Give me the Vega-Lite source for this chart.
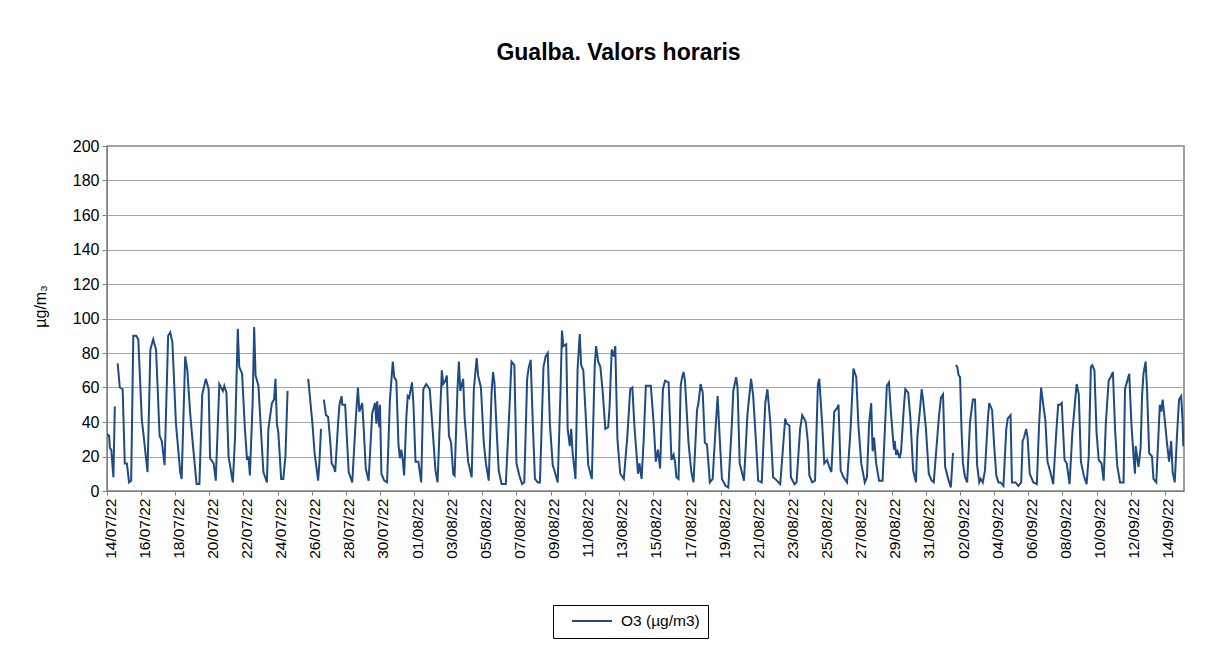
{
"$schema": "https://vega.github.io/schema/vega-lite/v6.json",
"width": 1077, "height": 345,
"autosize": "none",
"padding": {"left": 107, "top": 146, "right": 28, "bottom": 164},
"background": "white",
"title": {"text": "Gualba. Valors horaris", "font": "Liberation Sans", "fontSize": 23, "fontWeight": "bold", "color": "black", "anchor": "middle", "dx": -27, "offset": 73},
"data": {"values": [
{"t":"2022-07-14T00:00","v":33},{"t":"2022-07-14T03:00","v":32},{"t":"2022-07-14T04:00","v":25},{"t":"2022-07-14T06:00","v":24},{"t":"2022-07-14T09:00","v":8},{"t":"2022-07-14T11:00","v":49},{"t":"2022-07-14T12:00","v":null},{"t":"2022-07-14T15:00","v":74},{"t":"2022-07-14T18:00","v":60},{"t":"2022-07-14T22:00","v":59},
{"t":"2022-07-15T01:00","v":16},{"t":"2022-07-15T04:00","v":16},{"t":"2022-07-15T07:00","v":5},{"t":"2022-07-15T10:00","v":6},{"t":"2022-07-15T13:00","v":90},{"t":"2022-07-15T17:00","v":90},{"t":"2022-07-15T20:00","v":88},
{"t":"2022-07-16T01:00","v":41},{"t":"2022-07-16T03:00","v":34},{"t":"2022-07-16T09:00","v":11},{"t":"2022-07-16T13:00","v":82},{"t":"2022-07-16T17:00","v":88},{"t":"2022-07-16T21:00","v":82},
{"t":"2022-07-17T02:00","v":32},{"t":"2022-07-17T05:00","v":29},{"t":"2022-07-17T09:00","v":15},{"t":"2022-07-17T14:00","v":90},{"t":"2022-07-17T17:00","v":92},{"t":"2022-07-17T20:00","v":86},
{"t":"2022-07-18T01:00","v":39},{"t":"2022-07-18T07:00","v":11},{"t":"2022-07-18T09:00","v":7},{"t":"2022-07-18T14:00","v":78},{"t":"2022-07-18T17:00","v":70},{"t":"2022-07-18T21:00","v":45},
{"t":"2022-07-19T01:00","v":26},{"t":"2022-07-19T06:00","v":4},{"t":"2022-07-19T10:00","v":4},{"t":"2022-07-19T14:00","v":56},{"t":"2022-07-19T19:00","v":65},{"t":"2022-07-19T23:00","v":59},
{"t":"2022-07-20T01:00","v":19},{"t":"2022-07-20T06:00","v":16},{"t":"2022-07-20T09:00","v":6},{"t":"2022-07-20T14:00","v":62},{"t":"2022-07-20T19:00","v":58},{"t":"2022-07-20T21:00","v":61},
{"t":"2022-07-21T00:00","v":57},{"t":"2022-07-21T03:00","v":20},{"t":"2022-07-21T09:00","v":5},{"t":"2022-07-21T12:00","v":30},{"t":"2022-07-21T16:00","v":94},{"t":"2022-07-21T18:00","v":72},{"t":"2022-07-21T22:00","v":68},
{"t":"2022-07-22T02:00","v":36},{"t":"2022-07-22T05:00","v":18},{"t":"2022-07-22T07:00","v":20},{"t":"2022-07-22T09:00","v":9},{"t":"2022-07-22T13:00","v":53},{"t":"2022-07-22T15:00","v":95},{"t":"2022-07-22T17:00","v":67},{"t":"2022-07-22T21:00","v":61},
{"t":"2022-07-23T01:00","v":32},{"t":"2022-07-23T04:00","v":11},{"t":"2022-07-23T09:00","v":5},{"t":"2022-07-23T11:00","v":36},{"t":"2022-07-23T16:00","v":51},{"t":"2022-07-23T19:00","v":53},{"t":"2022-07-23T21:00","v":65},{"t":"2022-07-23T23:00","v":39},
{"t":"2022-07-24T01:00","v":34},{"t":"2022-07-24T05:00","v":7},{"t":"2022-07-24T08:00","v":7},{"t":"2022-07-24T11:00","v":20},{"t":"2022-07-24T14:00","v":58},{"t":"2022-07-24T15:00","v":null},
{"t":"2022-07-25T19:00","v":65},{"t":"2022-07-25T20:00","v":61},
{"t":"2022-07-26T01:00","v":39},{"t":"2022-07-26T04:00","v":22},{"t":"2022-07-26T09:00","v":6},{"t":"2022-07-26T11:00","v":18},{"t":"2022-07-26T13:00","v":36},{"t":"2022-07-26T15:00","v":null},{"t":"2022-07-26T17:00","v":53},{"t":"2022-07-26T20:00","v":44},{"t":"2022-07-26T23:00","v":43},
{"t":"2022-07-27T02:00","v":29},{"t":"2022-07-27T04:00","v":16},{"t":"2022-07-27T07:00","v":14},{"t":"2022-07-27T09:00","v":11},{"t":"2022-07-27T13:00","v":39},{"t":"2022-07-27T15:00","v":50},{"t":"2022-07-27T18:00","v":55},{"t":"2022-07-27T19:00","v":50},{"t":"2022-07-27T23:00","v":50},
{"t":"2022-07-28T04:00","v":11},{"t":"2022-07-28T09:00","v":5},{"t":"2022-07-28T14:00","v":42},{"t":"2022-07-28T17:00","v":60},{"t":"2022-07-28T19:00","v":46},{"t":"2022-07-28T23:00","v":51},
{"t":"2022-07-29T01:00","v":37},{"t":"2022-07-29T04:00","v":13},{"t":"2022-07-29T08:00","v":6},{"t":"2022-07-29T13:00","v":45},{"t":"2022-07-29T17:00","v":51},{"t":"2022-07-29T19:00","v":39},{"t":"2022-07-29T20:00","v":52},{"t":"2022-07-29T23:00","v":37},
{"t":"2022-07-30T00:00","v":50},{"t":"2022-07-30T02:00","v":10},{"t":"2022-07-30T06:00","v":6},{"t":"2022-07-30T10:00","v":5},{"t":"2022-07-30T14:00","v":53},{"t":"2022-07-30T18:00","v":75},{"t":"2022-07-30T20:00","v":66},{"t":"2022-07-30T23:00","v":64},
{"t":"2022-07-31T02:00","v":27},{"t":"2022-07-31T04:00","v":19},{"t":"2022-07-31T06:00","v":24},{"t":"2022-07-31T08:00","v":18},{"t":"2022-07-31T10:00","v":9},{"t":"2022-07-31T13:00","v":42},{"t":"2022-07-31T15:00","v":55},{"t":"2022-07-31T17:00","v":54},{"t":"2022-07-31T21:00","v":63},{"t":"2022-07-31T23:00","v":51},
{"t":"2022-08-01T02:00","v":17},{"t":"2022-08-01T06:00","v":17},{"t":"2022-08-01T10:00","v":5},{"t":"2022-08-01T13:00","v":59},{"t":"2022-08-01T17:00","v":62},{"t":"2022-08-01T22:00","v":59},
{"t":"2022-08-02T02:00","v":36},{"t":"2022-08-02T06:00","v":12},{"t":"2022-08-02T09:00","v":5},{"t":"2022-08-02T13:00","v":49},{"t":"2022-08-02T15:00","v":70},{"t":"2022-08-02T17:00","v":62},{"t":"2022-08-02T20:00","v":64},{"t":"2022-08-02T22:00","v":67},
{"t":"2022-08-03T01:00","v":32},{"t":"2022-08-03T04:00","v":28},{"t":"2022-08-03T07:00","v":10},{"t":"2022-08-03T09:00","v":9},{"t":"2022-08-03T13:00","v":59},{"t":"2022-08-03T15:00","v":75},{"t":"2022-08-03T17:00","v":58},{"t":"2022-08-03T21:00","v":65},{"t":"2022-08-03T23:00","v":43},
{"t":"2022-08-04T04:00","v":17},{"t":"2022-08-04T09:00","v":8},{"t":"2022-08-04T12:00","v":59},{"t":"2022-08-04T16:00","v":77},{"t":"2022-08-04T18:00","v":67},{"t":"2022-08-04T22:00","v":60},
{"t":"2022-08-05T02:00","v":28},{"t":"2022-08-05T05:00","v":16},{"t":"2022-08-05T09:00","v":6},{"t":"2022-08-05T13:00","v":57},{"t":"2022-08-05T15:00","v":69},{"t":"2022-08-05T17:00","v":63},{"t":"2022-08-05T20:00","v":36},{"t":"2022-08-05T23:00","v":12},
{"t":"2022-08-06T03:00","v":4},{"t":"2022-08-06T09:00","v":4},{"t":"2022-08-06T14:00","v":47},{"t":"2022-08-06T17:00","v":75},{"t":"2022-08-06T21:00","v":73},
{"t":"2022-08-07T00:00","v":16},{"t":"2022-08-07T04:00","v":9},{"t":"2022-08-07T08:00","v":4},{"t":"2022-08-07T11:00","v":5},{"t":"2022-08-07T15:00","v":65},{"t":"2022-08-07T17:00","v":71},{"t":"2022-08-07T20:00","v":76},{"t":"2022-08-07T23:00","v":39},
{"t":"2022-08-08T02:00","v":7},{"t":"2022-08-08T06:00","v":5},{"t":"2022-08-08T09:00","v":5},{"t":"2022-08-08T14:00","v":72},{"t":"2022-08-08T17:00","v":78},{"t":"2022-08-08T20:00","v":80},{"t":"2022-08-08T23:00","v":39},
{"t":"2022-08-09T03:00","v":15},{"t":"2022-08-09T06:00","v":11},{"t":"2022-08-09T10:00","v":5},{"t":"2022-08-09T14:00","v":59},{"t":"2022-08-09T16:00","v":93},{"t":"2022-08-09T18:00","v":84},{"t":"2022-08-09T22:00","v":85},
{"t":"2022-08-10T00:00","v":36},{"t":"2022-08-10T03:00","v":26},{"t":"2022-08-10T05:00","v":36},{"t":"2022-08-10T07:00","v":22},{"t":"2022-08-10T11:00","v":7},{"t":"2022-08-10T14:00","v":71},{"t":"2022-08-10T17:00","v":91},{"t":"2022-08-10T19:00","v":73},{"t":"2022-08-10T22:00","v":70},
{"t":"2022-08-11T02:00","v":39},{"t":"2022-08-11T05:00","v":15},{"t":"2022-08-11T10:00","v":7},{"t":"2022-08-11T14:00","v":72},{"t":"2022-08-11T16:00","v":84},{"t":"2022-08-11T19:00","v":75},{"t":"2022-08-11T22:00","v":72},
{"t":"2022-08-12T01:00","v":59},{"t":"2022-08-12T05:00","v":36},{"t":"2022-08-12T09:00","v":37},{"t":"2022-08-12T11:00","v":49},{"t":"2022-08-12T14:00","v":82},{"t":"2022-08-12T17:00","v":78},{"t":"2022-08-12T19:00","v":84},{"t":"2022-08-12T22:00","v":30},
{"t":"2022-08-13T02:00","v":10},{"t":"2022-08-13T07:00","v":7},{"t":"2022-08-13T12:00","v":32},{"t":"2022-08-13T16:00","v":59},{"t":"2022-08-13T19:00","v":60},{"t":"2022-08-13T22:00","v":37},
{"t":"2022-08-14T03:00","v":10},{"t":"2022-08-14T05:00","v":16},{"t":"2022-08-14T08:00","v":7},{"t":"2022-08-14T11:00","v":30},{"t":"2022-08-14T14:00","v":61},{"t":"2022-08-14T18:00","v":61},{"t":"2022-08-14T21:00","v":61},
{"t":"2022-08-15T01:00","v":39},{"t":"2022-08-15T04:00","v":17},{"t":"2022-08-15T07:00","v":24},{"t":"2022-08-15T10:00","v":13},{"t":"2022-08-15T14:00","v":59},{"t":"2022-08-15T17:00","v":64},{"t":"2022-08-15T22:00","v":63},
{"t":"2022-08-16T02:00","v":18},{"t":"2022-08-16T05:00","v":21},{"t":"2022-08-16T07:00","v":17},{"t":"2022-08-16T09:00","v":8},{"t":"2022-08-16T12:00","v":7},{"t":"2022-08-16T15:00","v":61},{"t":"2022-08-16T17:00","v":66},{"t":"2022-08-16T19:00","v":69},{"t":"2022-08-16T21:00","v":64},
{"t":"2022-08-17T02:00","v":28},{"t":"2022-08-17T06:00","v":11},{"t":"2022-08-17T09:00","v":5},{"t":"2022-08-17T14:00","v":47},{"t":"2022-08-17T16:00","v":51},{"t":"2022-08-17T19:00","v":62},{"t":"2022-08-17T22:00","v":57},
{"t":"2022-08-18T01:00","v":28},{"t":"2022-08-18T04:00","v":27},{"t":"2022-08-18T06:00","v":16},{"t":"2022-08-18T08:00","v":5},{"t":"2022-08-18T12:00","v":7},{"t":"2022-08-18T16:00","v":36},{"t":"2022-08-18T19:00","v":55},{"t":"2022-08-18T22:00","v":30},
{"t":"2022-08-19T01:00","v":7},{"t":"2022-08-19T06:00","v":3},{"t":"2022-08-19T10:00","v":2},{"t":"2022-08-19T15:00","v":39},{"t":"2022-08-19T17:00","v":58},{"t":"2022-08-19T21:00","v":66},{"t":"2022-08-19T23:00","v":60},
{"t":"2022-08-20T02:00","v":16},{"t":"2022-08-20T05:00","v":11},{"t":"2022-08-20T08:00","v":6},{"t":"2022-08-20T13:00","v":45},{"t":"2022-08-20T18:00","v":65},{"t":"2022-08-20T21:00","v":55},
{"t":"2022-08-21T01:00","v":28},{"t":"2022-08-21T04:00","v":6},{"t":"2022-08-21T09:00","v":5},{"t":"2022-08-21T14:00","v":51},{"t":"2022-08-21T17:00","v":59},{"t":"2022-08-21T21:00","v":40},
{"t":"2022-08-22T01:00","v":8},{"t":"2022-08-22T04:00","v":7},{"t":"2022-08-22T11:00","v":4},{"t":"2022-08-22T14:00","v":20},{"t":"2022-08-22T18:00","v":42},{"t":"2022-08-22T20:00","v":39},
{"t":"2022-08-23T00:00","v":38},{"t":"2022-08-23T02:00","v":8},{"t":"2022-08-23T07:00","v":4},{"t":"2022-08-23T10:00","v":5},{"t":"2022-08-23T15:00","v":36},{"t":"2022-08-23T18:00","v":44},{"t":"2022-08-23T23:00","v":40},
{"t":"2022-08-24T02:00","v":28},{"t":"2022-08-24T04:00","v":9},{"t":"2022-08-24T08:00","v":5},{"t":"2022-08-24T12:00","v":6},{"t":"2022-08-24T16:00","v":62},{"t":"2022-08-24T18:00","v":65},{"t":"2022-08-24T22:00","v":39},
{"t":"2022-08-25T01:00","v":16},{"t":"2022-08-25T05:00","v":18},{"t":"2022-08-25T08:00","v":14},{"t":"2022-08-25T11:00","v":11},{"t":"2022-08-25T15:00","v":46},{"t":"2022-08-25T19:00","v":48},{"t":"2022-08-25T21:00","v":50},
{"t":"2022-08-26T00:00","v":12},{"t":"2022-08-26T04:00","v":8},{"t":"2022-08-26T09:00","v":5},{"t":"2022-08-26T14:00","v":36},{"t":"2022-08-26T18:00","v":71},{"t":"2022-08-26T22:00","v":66},
{"t":"2022-08-27T01:00","v":38},{"t":"2022-08-27T05:00","v":16},{"t":"2022-08-27T10:00","v":5},{"t":"2022-08-27T13:00","v":8},{"t":"2022-08-27T16:00","v":39},{"t":"2022-08-27T19:00","v":51},{"t":"2022-08-27T21:00","v":23},{"t":"2022-08-27T23:00","v":31},
{"t":"2022-08-28T02:00","v":16},{"t":"2022-08-28T06:00","v":6},{"t":"2022-08-28T11:00","v":6},{"t":"2022-08-28T17:00","v":61},{"t":"2022-08-28T20:00","v":63},{"t":"2022-08-28T23:00","v":44},
{"t":"2022-08-29T03:00","v":24},{"t":"2022-08-29T04:00","v":29},{"t":"2022-08-29T06:00","v":21},{"t":"2022-08-29T08:00","v":23},{"t":"2022-08-29T11:00","v":19},{"t":"2022-08-29T13:00","v":23},{"t":"2022-08-29T17:00","v":49},{"t":"2022-08-29T19:00","v":59},{"t":"2022-08-29T23:00","v":57},
{"t":"2022-08-30T02:00","v":43},{"t":"2022-08-30T06:00","v":12},{"t":"2022-08-30T10:00","v":5},{"t":"2022-08-30T12:00","v":32},{"t":"2022-08-30T16:00","v":49},{"t":"2022-08-30T18:00","v":59},{"t":"2022-08-30T20:00","v":53},
{"t":"2022-08-31T00:00","v":36},{"t":"2022-08-31T04:00","v":10},{"t":"2022-08-31T08:00","v":6},{"t":"2022-08-31T11:00","v":5},{"t":"2022-08-31T18:00","v":42},{"t":"2022-08-31T21:00","v":54},
{"t":"2022-09-01T00:00","v":56},{"t":"2022-09-01T03:00","v":14},{"t":"2022-09-01T08:00","v":6},{"t":"2022-09-01T11:00","v":2},{"t":"2022-09-01T14:00","v":22},{"t":"2022-09-01T16:00","v":null},{"t":"2022-09-01T18:00","v":73},{"t":"2022-09-01T20:00","v":72},{"t":"2022-09-01T22:00","v":67},
{"t":"2022-09-02T00:00","v":66},{"t":"2022-09-02T02:00","v":36},{"t":"2022-09-02T04:00","v":16},{"t":"2022-09-02T07:00","v":8},{"t":"2022-09-02T10:00","v":5},{"t":"2022-09-02T14:00","v":40},{"t":"2022-09-02T18:00","v":53},{"t":"2022-09-02T21:00","v":53},
{"t":"2022-09-03T00:00","v":15},{"t":"2022-09-03T03:00","v":5},{"t":"2022-09-03T05:00","v":7},{"t":"2022-09-03T08:00","v":5},{"t":"2022-09-03T11:00","v":12},{"t":"2022-09-03T15:00","v":41},{"t":"2022-09-03T17:00","v":51},{"t":"2022-09-03T21:00","v":47},
{"t":"2022-09-04T00:00","v":26},{"t":"2022-09-04T03:00","v":9},{"t":"2022-09-04T06:00","v":5},{"t":"2022-09-04T09:00","v":5},{"t":"2022-09-04T13:00","v":3},{"t":"2022-09-04T17:00","v":36},{"t":"2022-09-04T19:00","v":42},{"t":"2022-09-04T23:00","v":44},
{"t":"2022-09-05T01:00","v":5},{"t":"2022-09-05T06:00","v":5},{"t":"2022-09-05T10:00","v":3},{"t":"2022-09-05T14:00","v":5},{"t":"2022-09-05T16:00","v":29},{"t":"2022-09-05T18:00","v":31},{"t":"2022-09-05T21:00","v":36},{"t":"2022-09-05T23:00","v":31},
{"t":"2022-09-06T02:00","v":10},{"t":"2022-09-06T07:00","v":5},{"t":"2022-09-06T12:00","v":4},{"t":"2022-09-06T15:00","v":37},{"t":"2022-09-06T18:00","v":60},{"t":"2022-09-06T21:00","v":50},
{"t":"2022-09-07T00:00","v":41},{"t":"2022-09-07T03:00","v":17},{"t":"2022-09-07T07:00","v":11},{"t":"2022-09-07T11:00","v":4},{"t":"2022-09-07T15:00","v":32},{"t":"2022-09-07T18:00","v":50},{"t":"2022-09-07T21:00","v":50},{"t":"2022-09-07T23:00","v":51},
{"t":"2022-09-08T03:00","v":18},{"t":"2022-09-08T06:00","v":16},{"t":"2022-09-08T10:00","v":4},{"t":"2022-09-08T14:00","v":34},{"t":"2022-09-08T18:00","v":53},{"t":"2022-09-08T20:00","v":62},{"t":"2022-09-08T23:00","v":56},
{"t":"2022-09-09T02:00","v":17},{"t":"2022-09-09T06:00","v":9},{"t":"2022-09-09T10:00","v":4},{"t":"2022-09-09T13:00","v":20},{"t":"2022-09-09T16:00","v":72},{"t":"2022-09-09T18:00","v":73},{"t":"2022-09-09T21:00","v":70},
{"t":"2022-09-10T00:00","v":34},{"t":"2022-09-10T03:00","v":18},{"t":"2022-09-10T07:00","v":16},{"t":"2022-09-10T10:00","v":6},{"t":"2022-09-10T13:00","v":39},{"t":"2022-09-10T17:00","v":64},{"t":"2022-09-10T20:00","v":66},{"t":"2022-09-10T23:00","v":69},
{"t":"2022-09-11T02:00","v":36},{"t":"2022-09-11T05:00","v":15},{"t":"2022-09-11T09:00","v":5},{"t":"2022-09-11T14:00","v":5},{"t":"2022-09-11T16:00","v":59},{"t":"2022-09-11T20:00","v":65},{"t":"2022-09-11T22:00","v":68},
{"t":"2022-09-12T01:00","v":39},{"t":"2022-09-12T04:00","v":20},{"t":"2022-09-12T06:00","v":10},{"t":"2022-09-12T07:00","v":26},{"t":"2022-09-12T09:00","v":20},{"t":"2022-09-12T11:00","v":14},{"t":"2022-09-12T14:00","v":25},{"t":"2022-09-12T16:00","v":55},{"t":"2022-09-12T18:00","v":68},{"t":"2022-09-12T21:00","v":75},{"t":"2022-09-12T23:00","v":59},
{"t":"2022-09-13T02:00","v":22},{"t":"2022-09-13T06:00","v":20},{"t":"2022-09-13T08:00","v":7},{"t":"2022-09-13T12:00","v":5},{"t":"2022-09-13T17:00","v":50},{"t":"2022-09-13T19:00","v":46},{"t":"2022-09-13T21:00","v":53},
{"t":"2022-09-14T00:00","v":41},{"t":"2022-09-14T03:00","v":28},{"t":"2022-09-14T06:00","v":17},{"t":"2022-09-14T09:00","v":29},{"t":"2022-09-14T11:00","v":11},{"t":"2022-09-14T14:00","v":5},{"t":"2022-09-14T17:00","v":31},{"t":"2022-09-14T20:00","v":53},{"t":"2022-09-14T23:00","v":55},
{"t":"2022-09-15T01:00","v":41},{"t":"2022-09-15T02:00","v":26}
]},
"mark": {"type": "line", "strokeWidth": 2, "invalid": "break-paths-show-domains", "clip": true},
"encoding": {
 "x": {"field": "t", "type": "temporal",
  "scale": {"domain": [{"year": 2022, "month": 7, "date": 14, "hours": 0}, {"year": 2022, "month": 9, "date": 15, "hours": 3}]},
  "axis": {"title": null, "format": "%d/%m/%y", "labelAngle": -90, "labelOverlap": false, "labelFlush": false, "labelBound": false, "labelOffset": 3,
   "labelFont": "Liberation Sans", "labelFontSize": 15.5, "labelColor": "black", "labelPadding": 3,
   "grid": false, "domainColor": "#808080", "tickColor": "#808080", "tickSize": 4,
   "values": [
    {"year":2022,"month":7,"date":14},{"year":2022,"month":7,"date":16},{"year":2022,"month":7,"date":18},{"year":2022,"month":7,"date":20},{"year":2022,"month":7,"date":22},{"year":2022,"month":7,"date":24},{"year":2022,"month":7,"date":26},{"year":2022,"month":7,"date":28},{"year":2022,"month":7,"date":30},
    {"year":2022,"month":8,"date":1},{"year":2022,"month":8,"date":3},{"year":2022,"month":8,"date":5},{"year":2022,"month":8,"date":7},{"year":2022,"month":8,"date":9},{"year":2022,"month":8,"date":11},{"year":2022,"month":8,"date":13},{"year":2022,"month":8,"date":15},{"year":2022,"month":8,"date":17},{"year":2022,"month":8,"date":19},{"year":2022,"month":8,"date":21},{"year":2022,"month":8,"date":23},{"year":2022,"month":8,"date":25},{"year":2022,"month":8,"date":27},{"year":2022,"month":8,"date":29},{"year":2022,"month":8,"date":31},
    {"year":2022,"month":9,"date":2},{"year":2022,"month":9,"date":4},{"year":2022,"month":9,"date":6},{"year":2022,"month":9,"date":8},{"year":2022,"month":9,"date":10},{"year":2022,"month":9,"date":12},{"year":2022,"month":9,"date":14}
   ]}},
 "y": {"field": "v", "type": "quantitative",
  "scale": {"domain": [0, 200], "nice": false, "zero": true},
  "axis": {"title": "µg/m₃", "titleFont": "Liberation Sans", "titleFontSize": 16, "titleFontWeight": "normal", "titleColor": "black", "titleX": -59, "titleY": 160,
   "values": [0, 20, 40, 60, 80, 100, 120, 140, 160, 180, 200],
   "labelFont": "Liberation Sans", "labelFontSize": 16, "labelColor": "black", "labelPadding": 3,
   "grid": true, "gridColor": "#A6A6A6", "gridWidth": 1, "domainColor": "#808080", "tickColor": "#808080", "tickSize": 5}},
 "color": {"datum": "O3 (µg/m3)", "type": "nominal", "scale": {"range": ["#1F4A84"]},
  "legend": {"title": null, "orient": "none", "legendX": 446, "legendY": 459, "strokeColor": "black", "padding": 8, "clipHeight": 16,
   "symbolType": "stroke", "symbolSize": 1600, "symbolStrokeWidth": 2, "symbolOffset": 10,
   "labelFont": "Liberation Sans", "labelFontSize": 15.5, "labelColor": "black", "labelOffset": 8}}
},
"config": {"view": {"stroke": "#808080", "strokeWidth": 1.5}, "font": "Liberation Sans"}
}
